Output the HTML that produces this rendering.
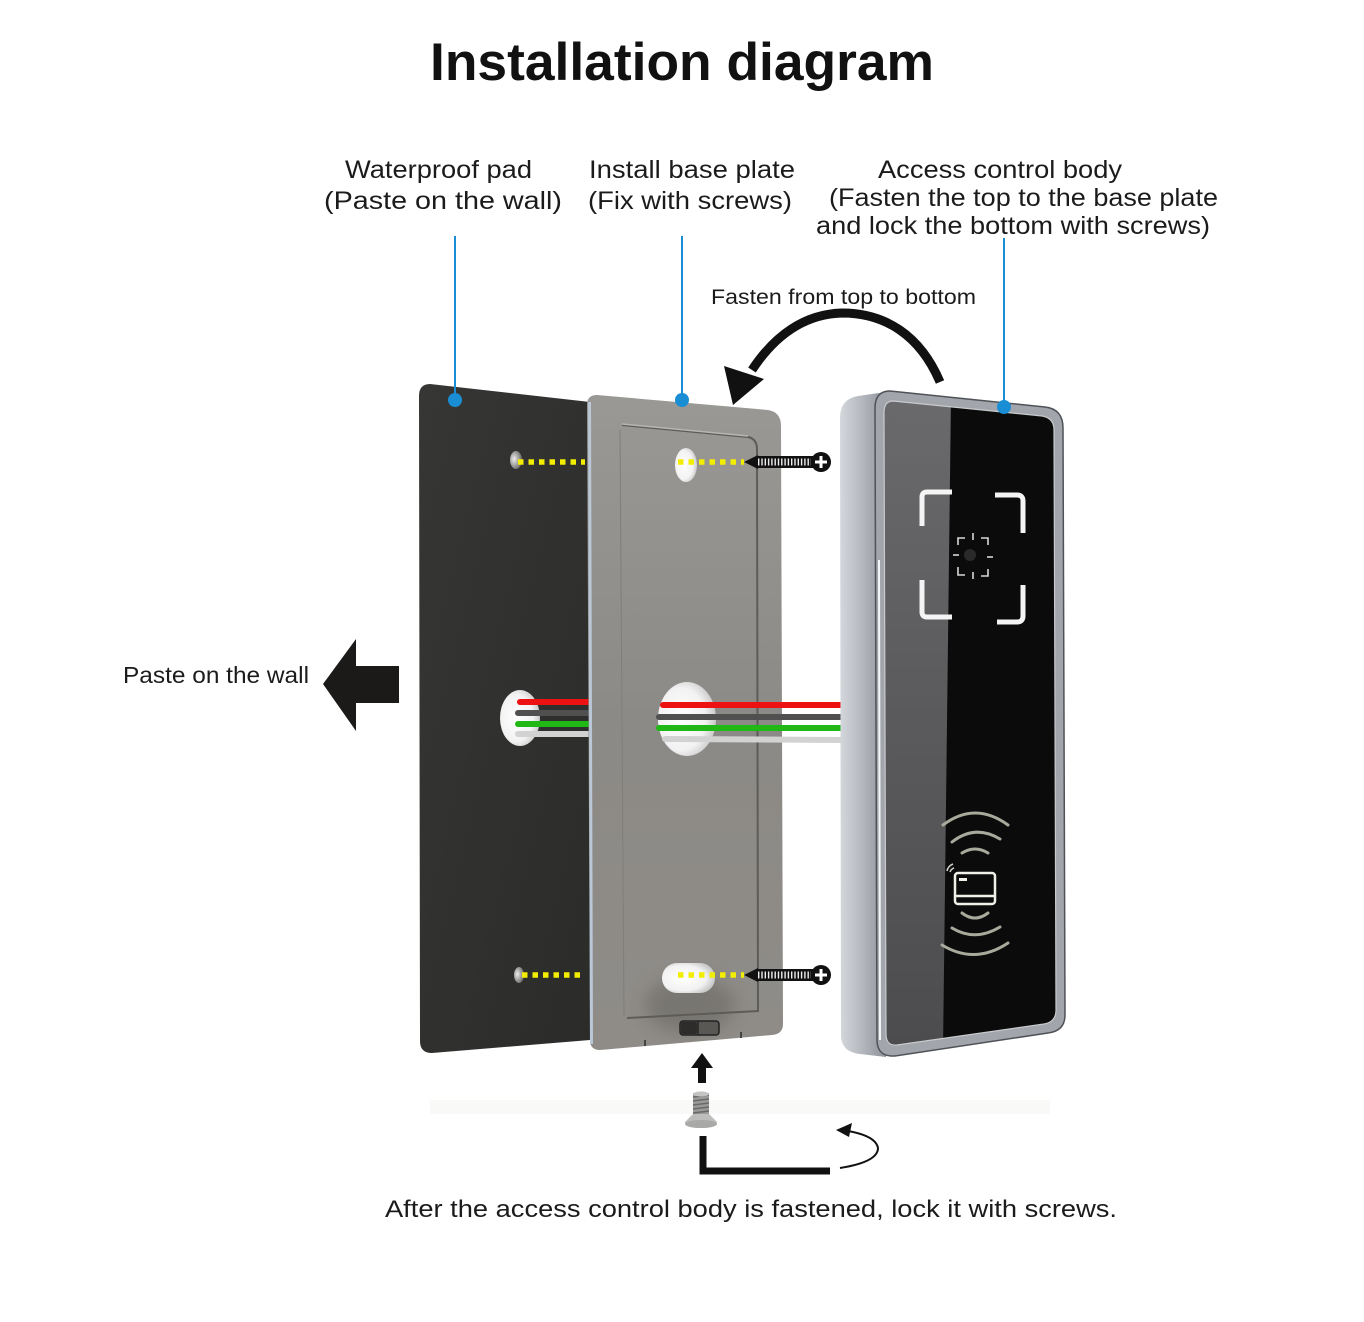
<!DOCTYPE html>
<html><head><meta charset="utf-8"><style>
html,body{margin:0;padding:0;background:#fff;}
svg{display:block;}
text{font-family:"Liberation Sans",Arial,sans-serif;fill:#1b1b1b;}
</style></head><body>
<svg width="1364" height="1322" viewBox="0 0 1364 1322" xmlns="http://www.w3.org/2000/svg">
<defs>
  <linearGradient id="padg" x1="0" y1="0" x2="1" y2="1">
    <stop offset="0" stop-color="#363634"/>
    <stop offset="1" stop-color="#2b2b29"/>
  </linearGradient>
  <linearGradient id="plateg" x1="0" y1="0" x2="0" y2="1">
    <stop offset="0" stop-color="#9a9894"/>
    <stop offset="0.5" stop-color="#8c8a86"/>
    <stop offset="1" stop-color="#8f8c88"/>
  </linearGradient>
  <linearGradient id="sideg" x1="0" y1="0" x2="1" y2="0">
    <stop offset="0" stop-color="#d4d7dc"/>
    <stop offset="0.5" stop-color="#b3b6bc"/>
    <stop offset="1" stop-color="#8e9198"/>
  </linearGradient>
  <linearGradient id="reflg" x1="0" y1="0" x2="0" y2="1">
    <stop offset="0" stop-color="#6a6a6c"/>
    <stop offset="0.5" stop-color="#5a5a5c"/>
    <stop offset="1" stop-color="#4c4c4e"/>
  </linearGradient>
  <radialGradient id="holeg" cx="0.4" cy="0.5" r="0.6">
    <stop offset="0" stop-color="#ffffff"/>
    <stop offset="0.7" stop-color="#f2f2f2"/>
    <stop offset="1" stop-color="#c9c9c9"/>
  </radialGradient>
  <radialGradient id="smallhole" cx="0.35" cy="0.45" r="0.7">
    <stop offset="0" stop-color="#eeeeee"/>
    <stop offset="1" stop-color="#5a5a58"/>
  </radialGradient>
  <filter id="blur8" x="-50%" y="-50%" width="200%" height="200%"><feGaussianBlur stdDeviation="8"/></filter>
  <clipPath id="glassclip">
    <path d="M893,401 L1042,416 Q1054,418 1054,430 L1056,1010 Q1056,1022 1044,1024 L897,1045 Q886,1046 886,1034 L884,413 Q884,401 893,401 Z"/>
  </clipPath>
  <clipPath id="plateclip">
    <path d="M597,395 L768,410 Q781,412 781,426 L783,1024 Q783,1034 772,1035 L600,1050 Q590,1050 590,1040 L587,405 Q587,395 597,395 Z"/>
  </clipPath>
</defs>

<!-- Title -->
<text x="682" y="80" text-anchor="middle" font-size="53" font-weight="bold" textLength="504" lengthAdjust="spacingAndGlyphs" style="fill:#111">Installation diagram</text>

<!-- Top labels -->
<text x="345" y="178" font-size="25" textLength="187" lengthAdjust="spacingAndGlyphs">Waterproof pad</text>
<text x="324" y="209" font-size="25" textLength="238" lengthAdjust="spacingAndGlyphs">(Paste on the wall)</text>
<text x="589" y="178" font-size="25" textLength="206" lengthAdjust="spacingAndGlyphs">Install base plate</text>
<text x="588" y="209" font-size="25" textLength="204" lengthAdjust="spacingAndGlyphs">(Fix with screws)</text>
<text x="878" y="178" font-size="25" textLength="244" lengthAdjust="spacingAndGlyphs">Access control body</text>
<text x="829" y="206" font-size="25" textLength="389" lengthAdjust="spacingAndGlyphs">(Fasten the top to the base plate</text>
<text x="816" y="234" font-size="25" textLength="394" lengthAdjust="spacingAndGlyphs">and lock the bottom with screws)</text>

<text x="711" y="304" font-size="21" textLength="265" lengthAdjust="spacingAndGlyphs">Fasten from top to bottom</text>

<!-- Curved arrow -->
<path d="M940,382 C920,335 885,313 842,313 C805,314 775,335 752,370" fill="none" stroke="#111" stroke-width="9"/>
<polygon points="724,366 764,379 733,405" fill="#111"/>

<!-- Left arrow -->
<text x="123" y="683" font-size="23" textLength="186" lengthAdjust="spacingAndGlyphs">Paste on the wall</text>
<polygon points="323,684 356,639 356,666 399,666 399,703 356,703 356,731" fill="#1c1a19"/>

<!-- faint shadow under items -->
<rect x="430" y="1100" width="620" height="14" fill="#f9f9f7"/>

<!-- Waterproof pad -->
<path d="M430,384 L590,402 L590,1040 L432,1053 Q420,1053 420,1041 L419,396 Q419,384 430,384 Z" fill="url(#padg)"/>
<ellipse cx="516" cy="460" rx="6" ry="9" fill="url(#smallhole)"/>
<ellipse cx="519" cy="975" rx="5" ry="8" fill="url(#smallhole)"/>
<ellipse cx="520" cy="718" rx="20" ry="28" fill="url(#holeg)"/>
<!-- pad wires -->
<g stroke-width="6" stroke-linecap="round">
  <line x1="520" y1="702" x2="590" y2="702" stroke="#ee1111"/>
  <line x1="518" y1="713" x2="590" y2="713" stroke="#505050"/>
  <line x1="518" y1="724" x2="590" y2="724" stroke="#1fb815"/>
  <line x1="518" y1="734" x2="590" y2="734" stroke="#d2d2d2"/>
</g>
<line x1="518" y1="462" x2="585" y2="462" stroke="#f3ee00" stroke-width="5.5" stroke-dasharray="5.5 5"/>
<line x1="522" y1="975" x2="585" y2="975" stroke="#f3ee00" stroke-width="5.5" stroke-dasharray="5.5 5"/>

<!-- Base plate -->
<path d="M597,395 L768,410 Q781,412 781,426 L783,1024 Q783,1034 772,1035 L600,1050 Q590,1050 590,1040 L587,405 Q587,395 597,395 Z" fill="url(#plateg)"/>
<g clip-path="url(#plateclip)">
  <ellipse cx="690" cy="1005" rx="45" ry="28" fill="#5f5d59" opacity="0.45" filter="url(#blur8)"/>
</g>
<line x1="589.5" y1="402" x2="591.5" y2="1044" stroke="#b9c7d6" stroke-width="3"/>
<!-- inner raised rect -->
<path d="M622,425 L748,437 Q757,439 757,449 L758,1011 L627,1018" fill="none" stroke="#5e5c59" stroke-width="2"/>
<path d="M622,424 L748,436" fill="none" stroke="#b8b6b2" stroke-width="1.5"/>
<path d="M620,430 L624,1016" fill="none" stroke="#807e7a" stroke-width="1"/>
<!-- plate holes -->
<ellipse cx="686" cy="465" rx="11" ry="17" fill="url(#holeg)"/>
<rect x="662" y="963" width="53" height="30" rx="15" fill="url(#holeg)"/>
<ellipse cx="687" cy="719" rx="29" ry="37" fill="url(#holeg)"/>
<!-- switch -->
<rect x="680" y="1021" width="39" height="14" rx="3" fill="#5a5855" stroke="#222" stroke-width="1.5"/>
<rect x="681" y="1022" width="16" height="12" rx="2" fill="#2d2c2a"/>
<line x1="698" y1="1021" x2="698" y2="1035" stroke="#222" stroke-width="1.5"/>
<!-- notches -->
<line x1="645" y1="1046" x2="645" y2="1040" stroke="#444" stroke-width="2"/>
<line x1="741" y1="1038" x2="741" y2="1032" stroke="#444" stroke-width="2"/>
<!-- plate wires -->
<g stroke-width="6" stroke-linecap="round">
  <line x1="663" y1="705" x2="842" y2="705" stroke="#ee1111"/>
  <line x1="659" y1="717" x2="842" y2="717" stroke="#505050"/>
  <line x1="659" y1="728" x2="842" y2="728" stroke="#1fb815"/>
  <line x1="665" y1="739" x2="842" y2="740" stroke="#d2d2d2"/>
</g>
<line x1="678" y1="462" x2="744" y2="462" stroke="#f3ee00" stroke-width="5.5" stroke-dasharray="5.5 5"/>
<line x1="678" y1="975" x2="744" y2="975" stroke="#f3ee00" stroke-width="5.5" stroke-dasharray="5.5 5"/>

<!-- Screws -->
<g>
  <polygon points="744,462 758,455 758,469" fill="#111"/>
  <rect x="756" y="456" width="57" height="12" fill="#111"/>
  <line x1="758" y1="462" x2="811" y2="462" stroke="#eee" stroke-width="7" stroke-dasharray="1.4 1.9"/>
  <circle cx="821" cy="462" r="10" fill="#111"/>
  <line x1="815" y1="462" x2="827" y2="462" stroke="#fff" stroke-width="3"/>
  <line x1="821" y1="456" x2="821" y2="468" stroke="#fff" stroke-width="3"/>
</g>
<g transform="translate(0,513)">
  <polygon points="744,462 758,455 758,469" fill="#111"/>
  <rect x="756" y="456" width="57" height="12" fill="#111"/>
  <line x1="758" y1="462" x2="811" y2="462" stroke="#eee" stroke-width="7" stroke-dasharray="1.4 1.9"/>
  <circle cx="821" cy="462" r="10" fill="#111"/>
  <line x1="815" y1="462" x2="827" y2="462" stroke="#fff" stroke-width="3"/>
  <line x1="821" y1="456" x2="821" y2="468" stroke="#fff" stroke-width="3"/>
</g>

<!-- Access control body -->
<path d="M840,418 Q840,399 858,396 L886,392 L886,1057 L860,1054 Q841,1052 841,1035 Z" fill="url(#sideg)"/>
<path d="M890,391 L1045,407 Q1063,409 1063,428 L1065,1015 Q1065,1031 1048,1033 L895,1056 Q877,1057 877,1040 L875,408 Q875,391 890,391 Z" fill="#a2a5ab" stroke="#4f5257" stroke-width="1.5"/>
<path d="M893,401 L1042,416 Q1054,418 1054,430 L1056,1010 Q1056,1022 1044,1024 L897,1045 Q886,1046 886,1034 L884,413 Q884,401 893,401 Z" fill="#0b0b0b"/>
<g clip-path="url(#glassclip)">
  <polygon points="880,395 951,395 943,1050 880,1050" fill="url(#reflg)"/>
</g>
<path d="M893,401 L1042,416 Q1054,418 1054,430 L1056,1010 Q1056,1022 1044,1024 L897,1045 Q886,1046 886,1034 L884,413 Q884,401 893,401 Z" fill="none" stroke="#c8cacd" stroke-width="1.2"/>
<line x1="879" y1="560" x2="880" y2="1040" stroke="#f4f6f8" stroke-width="2"/>

<!-- face brackets -->
<g fill="none" stroke="#f4f4f4" stroke-width="5" stroke-linecap="butt">
  <path d="M922,526 L922,497 Q922,492 927,492 L952,492"/>
  <path d="M995,495 L1017,495 Q1023,495 1023,501 L1023,533"/>
  <path d="M922,580 L922,612 Q922,617 927,617 L952,617"/>
  <path d="M1023,585 L1023,616 Q1023,622 1017,622 L997,622"/>
</g>
<g fill="none" stroke="#d8d8d8" stroke-width="1.6">
  <path d="M958,545 L958,538 L965,538"/>
  <path d="M981,538 L988,538 L988,545"/>
  <path d="M958,567 L958,575 L965,575"/>
  <path d="M981,576 L988,576 L988,569"/>
  <line x1="973" y1="533" x2="973" y2="540"/>
  <line x1="973" y1="572" x2="973" y2="579"/>
  <line x1="953" y1="555" x2="959" y2="555"/>
  <line x1="987" y1="557" x2="993" y2="557"/>
</g>
<circle cx="970" cy="555" r="6" fill="#2a2a2a"/>

<!-- NFC -->
<g fill="none" stroke="#a9a99c" stroke-width="3" stroke-linecap="round">
  <path d="M943,825 Q975,801 1008,825"/>
  <path d="M952,842 Q975,824 1000,839"/>
  <path d="M962,853 Q975,845 988,853"/>
  <path d="M962,913 Q975,923 988,913"/>
  <path d="M952,928 Q975,942 1000,927"/>
  <path d="M942,945 Q975,965 1008,943"/>
</g>
<rect x="955" y="873" width="40" height="31" rx="3" fill="none" stroke="#f0f0e8" stroke-width="2.5"/>
<line x1="956" y1="896" x2="994" y2="896" stroke="#f0f0e8" stroke-width="2.5"/>
<rect x="959" y="878" width="8" height="3" fill="#f0f0e8"/>
<path d="M947,871 Q948,866 953,864" fill="none" stroke="#d0d0c8" stroke-width="1.6"/>
<path d="M950,872 Q951,869 954,868" fill="none" stroke="#d0d0c8" stroke-width="1.6"/>

<!-- Blue leader lines -->
<g stroke="#1a8ed4" stroke-width="2">
  <line x1="455" y1="236" x2="455" y2="400"/>
  <line x1="682" y1="236" x2="682" y2="400"/>
  <line x1="1004" y1="238" x2="1004" y2="407"/>
</g>
<g fill="#1a8ed4">
  <circle cx="455" cy="400" r="7"/>
  <circle cx="682" cy="400" r="7"/>
  <circle cx="1004" cy="407" r="7"/>
</g>

<!-- Bottom up-arrow -->
<polygon points="702,1053 691,1068 713,1068" fill="#111"/>
<rect x="698" y="1066" width="8" height="17" fill="#111"/>

<!-- bolt -->
<rect x="693" y="1093" width="16" height="22" fill="#9a9a98"/>
<g stroke="#6a6a68" stroke-width="1.4">
  <line x1="693" y1="1097" x2="709" y2="1095"/>
  <line x1="693" y1="1101" x2="709" y2="1099"/>
  <line x1="693" y1="1105" x2="709" y2="1103"/>
  <line x1="693" y1="1109" x2="709" y2="1107"/>
  <line x1="693" y1="1113" x2="709" y2="1111"/>
</g>
<ellipse cx="701" cy="1094" rx="8" ry="2.5" fill="#c4c4c2"/>
<path d="M693,1114 L709,1114 L717,1122 Q717,1128 701,1128 Q685,1128 685,1122 Z" fill="#bdbdbb"/>
<ellipse cx="701" cy="1124" rx="16" ry="4" fill="#a8a8a6"/>

<!-- L wrench -->
<path d="M703,1136 L703,1171 L830,1171" fill="none" stroke="#111" stroke-width="7"/>
<!-- rotation arrow -->
<path d="M840,1168 Q878,1162 878,1148 Q876,1136 848,1131" fill="none" stroke="#111" stroke-width="2"/>
<polygon points="836,1130 852,1123 849,1137" fill="#111"/>

<!-- Bottom caption -->
<text x="385" y="1217" font-size="24" textLength="732" lengthAdjust="spacingAndGlyphs">After the access control body is fastened, lock it with screws.</text>
</svg>
</body></html>
